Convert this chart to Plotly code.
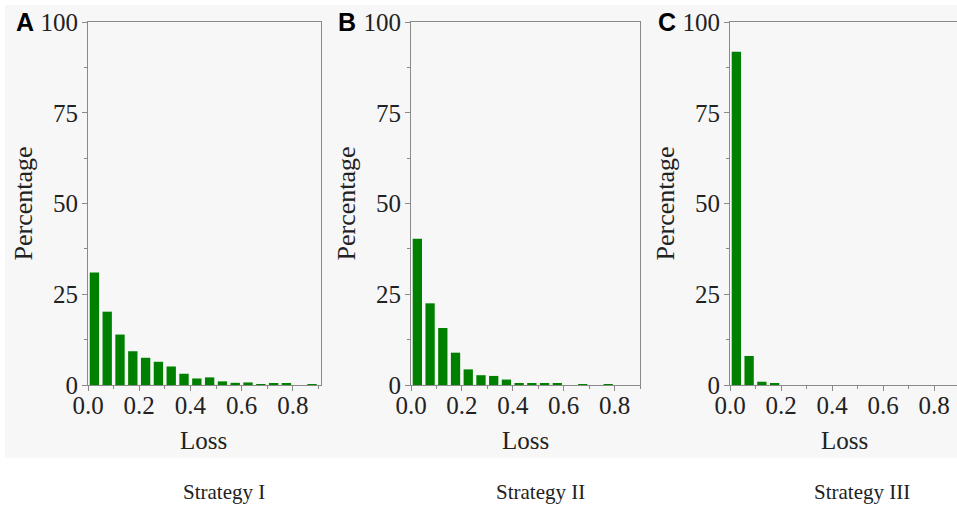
import plotly.graph_objects as go

W, H = 957, 506

bin_centers = [0.025, 0.075, 0.125, 0.175, 0.225, 0.275, 0.325, 0.375, 0.425,
               0.475, 0.525, 0.575, 0.625, 0.675, 0.725, 0.775, 0.825, 0.875]
strategy_1 = [31.0, 20.2, 13.9, 9.3, 7.5, 6.4, 5.1, 3.1, 1.8,
              2.1, 1.0, 0.6, 0.7, 0.2, 0.4, 0.3, 0.0, 0.2]
strategy_2 = [40.3, 22.5, 15.7, 8.9, 4.3, 2.7, 2.5, 1.5, 0.5,
              0.4, 0.4, 0.3, 0.0, 0.15, 0.0, 0.2, 0.0, 0.0]
strategy_3 = [91.8, 8.0, 0.9, 0.4, 0.0, 0.0, 0.0, 0.0, 0.0,
              0.0, 0.0, 0.0, 0.0, 0.0, 0.0, 0.0, 0.0, 0.0]
series = [strategy_1, strategy_2, strategy_3]
panel_letters = ["A", "B", "C"]
strategy_names = ["Strategy I", "Strategy II", "Strategy III"]
x_ticks = [0.0, 0.2, 0.4, 0.6, 0.8]
y_ticks = [0, 25, 50, 75, 100]

# pixel layout of the panels (left, right) and x ranges
panel_px = [(88, 321), (411, 640), (730, 957)]
x_ranges = [[0, 0.91], [0, 0.90], [0, 0.89]]
letter_px = [14, 336, 656]
caption_px = [224, 540, 862]
y_top_px, y_bot_px = 22, 385

def px_x(p):
    return p / W

def px_y(p):
    return 1 - p / H

fig = go.Figure()
serif = "Liberation Serif, Times New Roman, serif"
axis_col = "#8a8a8a"
text_col = "#222222"

for i, vals in enumerate(series):
    xa = "x" if i == 0 else f"x{i+1}"
    ya = "y" if i == 0 else f"y{i+1}"
    fig.add_trace(go.Bar(
        x=bin_centers, y=vals, xaxis=xa, yaxis=ya,
        marker=dict(color="#008000", line=dict(width=0)),
        showlegend=False,
    ))
    l, r = panel_px[i]
    common = dict(
        showline=True, linecolor=axis_col, linewidth=1.2, mirror=True,
        showgrid=False, zeroline=False, ticks="outside", ticklen=5,
        tickcolor=axis_col, tickwidth=1, automargin=False,
        tickfont=dict(family=serif, size=25, color=text_col),
    )
    xkey = "xaxis" if i == 0 else f"xaxis{i+1}"
    ykey = "yaxis" if i == 0 else f"yaxis{i+1}"
    fig.update_layout(**{
        xkey: dict(domain=[px_x(l), px_x(r)], range=x_ranges[i], anchor=ya,
                   tickvals=x_ticks, tickformat=".1f", ticklabelstandoff=-7,
                   minor=dict(dtick=0.1, tick0=0, ticks="outside", ticklen=3,
                              tickcolor=axis_col),
                   **common),
        ykey: dict(domain=[px_y(y_bot_px), px_y(y_top_px)], range=[0, 100],
                   anchor=xa, tickvals=y_ticks, ticklabelstandoff=-1,
                   minor=dict(dtick=12.5, tick0=0, ticks="outside", ticklen=3,
                              tickcolor=axis_col),
                   **common),
    })
    px_per_unit = (r - l) / x_ranges[i][1]
    # axis titles
    fig.add_annotation(x=px_x(l - 65), y=px_y((y_top_px + y_bot_px) / 2),
                       xref="paper", yref="paper", text="Percentage", textangle=-90,
                       xanchor="center", yanchor="middle",
                       showarrow=False, font=dict(family=serif, size=26, color=text_col))
    fig.add_annotation(x=px_x(l + 0.45 * px_per_unit), y=px_y(440),
                       xref="paper", yref="paper", text="Loss",
                       xanchor="center", yanchor="middle",
                       showarrow=False, font=dict(family=serif, size=25, color=text_col))
    # panel letter
    fig.add_annotation(x=px_x(letter_px[i]), y=px_y(22), xref="paper", yref="paper",
                       text=f"<b>{panel_letters[i]}</b>", showarrow=False,
                       xanchor="left", yanchor="middle",
                       font=dict(family="Liberation Sans, Arial, sans-serif", size=25, color="#000"))
    # strategy caption
    fig.add_annotation(x=px_x(caption_px[i]), y=px_y(492), xref="paper", yref="paper",
                       text=strategy_names[i], showarrow=False,
                       xanchor="center", yanchor="middle",
                       font=dict(family=serif, size=21, color=text_col))

fig.update_layout(
    width=W, height=H, margin=dict(l=0, r=0, t=0, b=0, pad=0, autoexpand=False),
    paper_bgcolor="white", plot_bgcolor="rgba(0,0,0,0)",
    bargap=0.27,
    shapes=[dict(type="rect", xref="paper", yref="paper",
                 x0=px_x(5), x1=1, y0=px_y(458), y1=px_y(5),
                 fillcolor="#f7f7f7", line=dict(width=0), layer="below")],
)

fig.write_html("out.html", config={"displayModeBar": False},
               post_script="document.body.style.margin='0';document.body.style.overflow='hidden';")
